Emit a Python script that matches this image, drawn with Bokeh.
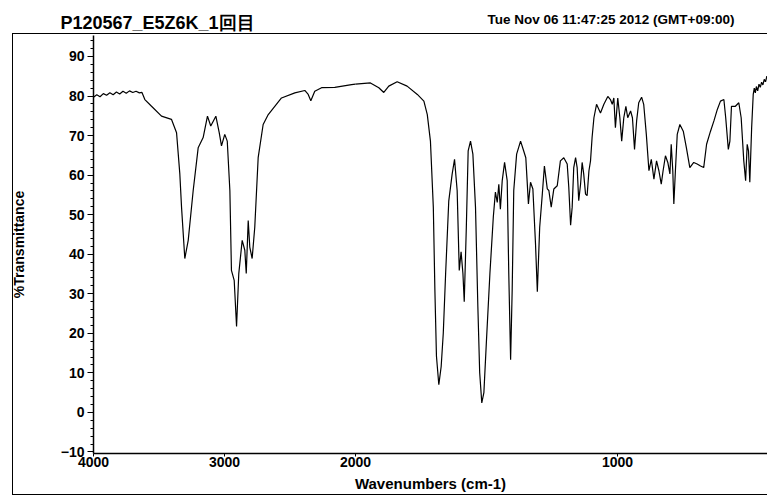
from bokeh.plotting import figure
from bokeh.models import (Range1d, FixedTicker, CustomJSTickFormatter, Label,
                          ColumnDataSource, InlineStyleSheet)
from bokeh.embed import file_html
from bokeh.resources import INLINE

# ---------------- data ----------------
title_text = "P120567_E5Z6K_1回目"
date_text = "Tue Nov 06 11:47:25 2012 (GMT+09:00)"
x_label = "Wavenumbers (cm-1)"
y_label = "%Transmittance"

x_tick_values = [4000, 3000, 2000, 1000]
y_tick_values = [-10, 0, 10, 20, 30, 40, 50, 60, 70, 80, 90]

# 4000-2000 cm-1 section (compressed scale)
wn_high = [4000, 3975, 3950, 3925, 3900, 3875, 3850, 3825, 3800, 3775, 3750, 3725,
           3700, 3675, 3650, 3630, 3608, 3557, 3481, 3405, 3366, 3341, 3328, 3303,
           3277, 3239, 3201, 3163, 3130, 3105, 3066, 3040, 3023, 2998, 2979, 2959,
           2947, 2926, 2908, 2891, 2865, 2845, 2834, 2819, 2807, 2789, 2769, 2743,
           2705, 2666, 2565, 2463, 2387, 2361, 2341, 2311, 2259, 2158, 2030, 2000]
t_high = [79.7, 80.3, 79.8, 80.6, 80.2, 80.8, 80.3, 81.0, 80.5, 81.2, 80.7, 81.3,
          80.9, 81.2, 80.8, 80.9, 79.1, 77.4, 74.9, 74.1, 70.7, 60.3, 51.9, 38.9,
          43.5, 56.1, 66.9, 69.5, 74.9, 72.4, 74.9, 70.7, 67.4, 70.3, 68.6, 56.1,
          35.9, 33.4, 21.7, 35.1, 43.5, 41.0, 35.1, 48.5, 41.8, 38.9, 46.8, 64.4,
          72.8, 75.3, 79.5, 80.8, 81.4, 80.4, 78.8, 81.2, 82.1, 82.2, 82.9, 83.0]

# 2000-400 cm-1 section (expanded scale)
wn_low = [2000, 1943, 1911, 1892, 1873, 1841, 1803, 1764, 1739, 1726, 1714, 1703,
          1697, 1691, 1682, 1673, 1665, 1656, 1644, 1631, 1622, 1612, 1604, 1597,
          1590, 1585, 1577, 1570, 1561, 1552, 1542, 1533, 1526, 1518, 1510, 1500,
          1487, 1474, 1466, 1459, 1453, 1447, 1440, 1431, 1421, 1415, 1408, 1402,
          1396, 1385, 1370, 1358, 1350, 1345, 1340, 1332, 1323, 1313, 1306, 1297,
          1287, 1279, 1268, 1262, 1253, 1243, 1230, 1218, 1205, 1192, 1186, 1179,
          1173, 1167, 1160, 1154, 1148, 1141, 1135, 1129, 1122, 1116, 1109, 1103,
          1097, 1090, 1080, 1065, 1052, 1037, 1027, 1020, 1014, 1008, 999, 991,
          984, 976, 968, 961, 950, 943, 935, 927, 919, 908, 900, 890,
          880, 871, 861, 851, 842, 833, 826, 817, 808, 800, 795, 789,
          785, 779, 772, 762, 749, 737, 724, 709, 696, 683, 671, 660,
          645, 632, 619, 607, 594, 587, 577, 571, 565, 550, 537, 528,
          518, 511, 505, 500, 495, 488, 482, 478, 474, 470, 465, 460,
          455, 450, 445, 440, 435, 430, 427.5]
t_low = [83.0, 83.3, 82.1, 80.9, 82.5, 83.6, 82.5, 80.4, 78.7, 75.3, 68.6, 51.9,
         30.9, 14.2, 7.0, 11.6, 20.0, 35.1, 53.5, 60.3, 64.0, 56.1, 35.9, 40.6,
         35.1, 28.0, 46.8, 66.1, 68.6, 65.3, 51.9, 26.7, 10.0, 2.4, 5.0, 18.4,
         35.1, 49.4, 55.7, 53.1, 57.7, 51.4, 58.6, 63.2, 58.6, 35.1, 13.3, 30.9,
         56.1, 65.3, 68.6, 66.1, 64.4, 58.6, 52.7, 58.2, 56.5, 42.7, 30.5, 46.8,
         55.2, 62.3, 56.5, 56.1, 51.9, 56.5, 57.3, 63.6, 64.4, 62.8, 57.0, 47.3,
         51.9, 61.9, 64.4, 61.9, 53.5, 57.7, 63.2, 60.3, 55.2, 54.8, 61.1, 63.6,
         69.5, 74.5, 77.9, 75.7, 77.9, 79.9, 79.1, 77.9, 79.5, 72.0, 79.5, 74.5,
         68.6, 74.5, 77.4, 74.5, 76.2, 74.5, 66.5, 73.7, 78.3, 79.7, 77.9, 70.3,
         61.1, 64.0, 59.0, 63.6, 61.1, 57.7, 61.1, 64.9, 63.2, 60.3, 67.8, 61.1,
         52.7, 61.1, 70.3, 72.8, 71.1, 66.9, 61.9, 63.2, 62.8, 62.3, 61.9, 67.8,
         71.1, 73.7, 76.6, 78.7, 79.1, 74.5, 66.5, 68.6, 77.4, 77.4, 78.3, 74.5,
         63.6, 58.6, 67.8, 66.1, 58.2, 72.0, 80.4, 82.0, 80.8, 82.4, 81.3, 83.0,
         82.2, 83.5, 82.8, 84.2, 83.6, 85.0, 84.6]

# ---------------- layout / scale settings ----------------
W, H = 767, 497
BL, BT, BB = 93, 34, 44          # borders around the plot frame
SPLIT = 2000.0                   # scale changes here
EXP = 2.0                        # expansion of the low-wavenumber part
X_START = 4000.0
LOW_END = 427.5                  # last visible wavenumber
Y_MIN, Y_MAX = -10.4, 95.3

hi_span = (X_START - SPLIT) + EXP * (SPLIT - LOW_END)
x_hi = Range1d(X_START, X_START - hi_span)
x_lo = Range1d(SPLIT + (X_START - SPLIT) / EXP, LOW_END)

FONT = "Liberation Sans"

# outer printout frame drawn by CSS around the plot area
frame_css = InlineStyleSheet(css="""
:host { position: relative; }
:host::after {
  content: "";
  position: absolute;
  left: 12px; top: 33px; width: 755px; height: 462px;
  box-sizing: border-box;
  border-left: 1.5px solid #000;
  border-top: 1.5px solid #000;
  border-bottom: 1.5px solid #000;
  pointer-events: none;
}
""")

p = figure(width=W, height=H, output_backend="svg", toolbar_location=None,
           x_range=x_hi, y_range=Range1d(Y_MIN, Y_MAX),
           min_border_left=BL, min_border_right=0, min_border_top=BT,
           min_border_bottom=BB, stylesheets=[frame_css])
p.extra_x_ranges = {"low": x_lo}
p.outline_line_color = None
p.background_fill_color = "white"
p.border_fill_color = "white"
p.xgrid.visible = False
p.ygrid.visible = False

src_hi = ColumnDataSource(dict(wn=wn_high, t=t_high))
src_lo = ColumnDataSource(dict(wn=wn_low, t=t_low))
p.line("wn", "t", source=src_hi, line_color="black", line_width=1.2)
p.line("wn", "t", source=src_lo, line_color="black", line_width=1.2,
       x_range_name="low")

# x axis on the compressed range, labelled through the split
tick_pos = [v if v >= SPLIT else SPLIT - EXP * (SPLIT - v) for v in x_tick_values]
xa = p.xaxis[0]
xa.ticker = FixedTicker(ticks=tick_pos, minor_ticks=[])
xa.formatter = CustomJSTickFormatter(args=dict(split=SPLIT, k=EXP), code="""
    const v = tick >= split ? tick : split - (split - tick) / k;
    return Math.round(v).toString();
""")
xa.axis_line_width = 1.5
xa.major_tick_out = 3
xa.major_tick_in = 0
xa.major_label_standoff = 0
xa.major_label_text_font = FONT
xa.major_label_text_font_style = "bold"
xa.major_label_text_font_size = "14px"
xa.major_label_text_color = "black"
xa.axis_label = x_label
xa.axis_label_text_font = FONT
xa.axis_label_text_font_style = "bold"
xa.axis_label_text_font_size = "15px"
xa.axis_label_text_color = "black"
xa.axis_label_standoff = 5

ya = p.yaxis[0]
minor = [v for v in range(-10, 95, 2)]
ya.ticker = FixedTicker(ticks=y_tick_values, minor_ticks=minor)
ya.axis_line_width = 1.5
ya.major_tick_out = 6
ya.major_tick_in = 0
ya.minor_tick_out = 3
ya.minor_tick_in = 0
ya.major_label_standoff = 3
ya.major_label_text_font = FONT
ya.major_label_text_font_style = "bold"
ya.major_label_text_font_size = "14px"
ya.major_label_text_color = "black"
ya.axis_label = y_label
ya.axis_label_text_font = FONT
ya.axis_label_text_font_style = "bold"
ya.axis_label_text_font_size = "14px"
ya.axis_label_text_color = "black"
ya.axis_label_standoff = 31

def lab(text, x, y, size):
    p.add_layout(Label(x=x, y=y, x_units="canvas", y_units="canvas", text=text,
                       text_font=FONT, text_font_style="bold",
                       text_font_size=size, text_color="black",
                       text_align="left", text_baseline="middle"), "above")

lab(title_text, 60, 22, "18px")
lab(date_text, 487, 19, "13.5px")

open("out.html", "w").write(file_html(p, INLINE))
